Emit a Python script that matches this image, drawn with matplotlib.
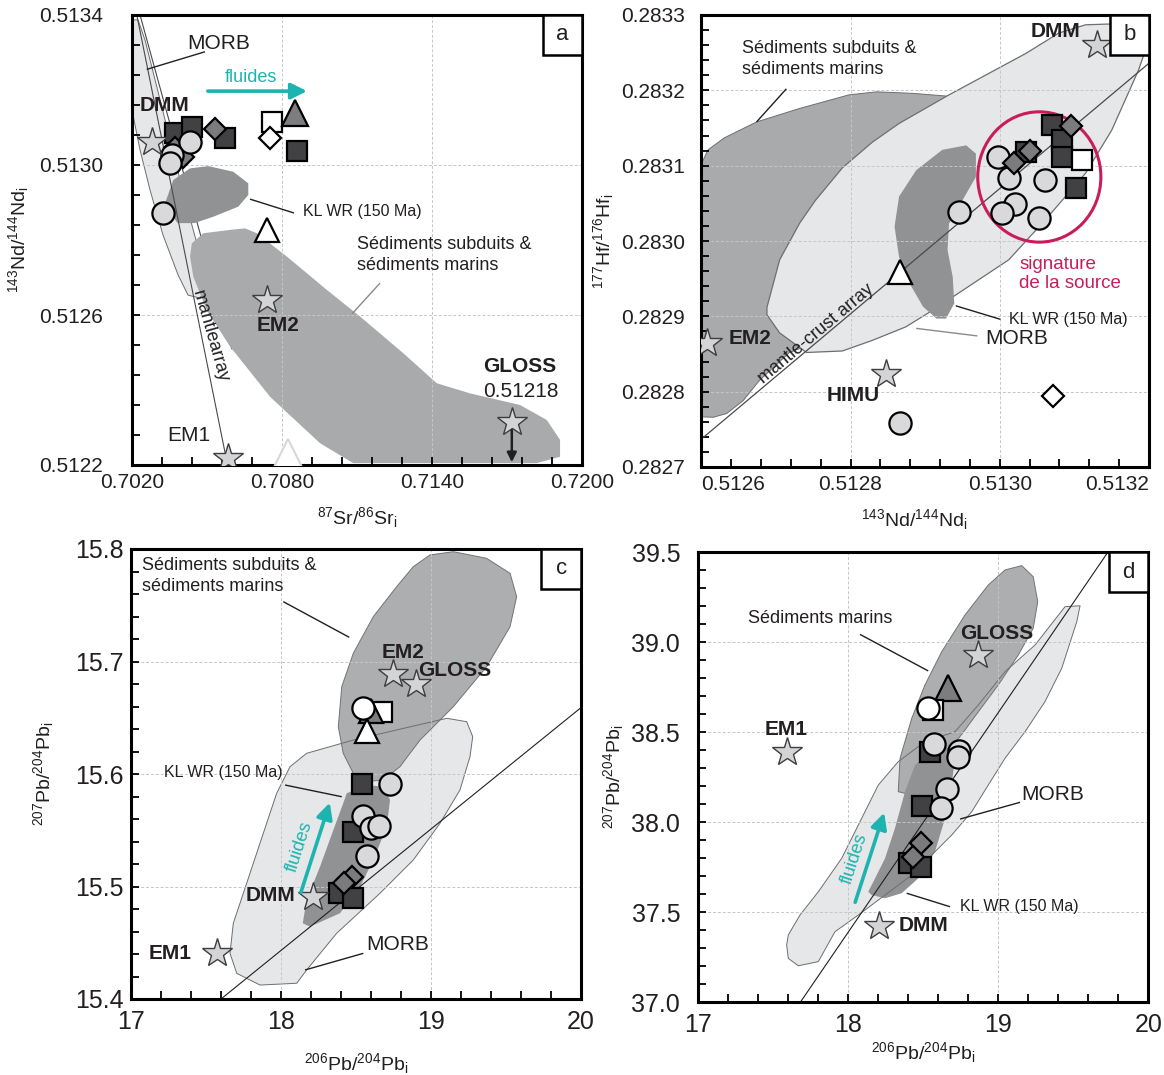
import numpy as np
import matplotlib
matplotlib.use('Agg')
import matplotlib.pyplot as plt
from matplotlib.patches import Polygon, Ellipse, Rectangle
from matplotlib.ticker import MultipleLocator, FixedLocator, FormatStrFormatter

plt.rcParams['font.family'] = ['Liberation Sans', 'DejaVu Sans']
plt.rcParams['mathtext.fontset'] = 'custom'
plt.rcParams['mathtext.rm'] = 'Liberation Sans'
plt.rcParams['mathtext.it'] = 'Liberation Sans:italic'
plt.rcParams['mathtext.bf'] = 'Liberation Sans:bold'

MORB_C = '#e6e7e8'
SED_C = '#a9aaac'
KL_C = '#919294'
EDGE = '#6d6e70'
TEAL = '#1db4b0'
RED = '#c81d5a'
TXT = '#231f20'
STAR_FC = '#d4d4d6'
SQ_FC = '#414143'
DIA_FC = '#7b7b7d'
CIR_FC = '#d9d9db'

# tick positions
a_xticks = [0.7020, 0.7080, 0.7140, 0.7200]
a_yticks = [0.5122, 0.5126, 0.5130, 0.5134]
b_xticks = [0.5126, 0.5128, 0.5130, 0.5132]
b_yticks = [0.2827, 0.2828, 0.2829, 0.2830, 0.2831, 0.2832, 0.2833]
c_xticks = [17, 18, 19, 20]
c_yticks = [15.4, 15.5, 15.6, 15.7, 15.8]
d_xticks = [17, 18, 19, 20]
d_yticks = [37.0, 37.5, 38.0, 38.5, 39.0, 39.5]

# ---------------- panel a : Sr - Nd ----------------
a_morb_x = [0.70203, 0.70203, 0.70231, 0.70271, 0.70323, 0.70383, 0.70423, 0.70471,
            0.70499, 0.70471, 0.70411, 0.70351, 0.70291, 0.70251, 0.70223]
a_morb_y = [0.513387, 0.513133, 0.513040, 0.512933, 0.512813, 0.512707, 0.512653, 0.512645,
            0.512680, 0.512760, 0.512907, 0.513067, 0.513227, 0.513333, 0.513387]
a_kl_x = [0.70331, 0.70364, 0.70431, 0.70504, 0.70604, 0.70664, 0.70664, 0.70624,
          0.70524, 0.70448, 0.70381, 0.70354]
a_kl_y = [0.512898, 0.512960, 0.512991, 0.512997, 0.512982, 0.512951, 0.512920, 0.512889,
          0.512862, 0.512845, 0.512845, 0.512871]
a_sed_x = [0.70438, 0.70484, 0.70591, 0.70651, 0.70698, 0.70818, 0.70978, 0.71111, 0.71284,
           0.71418, 0.71551, 0.71751, 0.71858, 0.71911, 0.71911, 0.71818, 0.71084, 0.70951,
           0.70751, 0.70591, 0.70498, 0.70444, 0.70431]
a_sed_y = [0.512791, 0.512818, 0.512827, 0.512831, 0.512818, 0.512756, 0.512667, 0.512596,
           0.512498, 0.512418, 0.512391, 0.512360, 0.512320, 0.512267, 0.512222, 0.512205,
           0.512205, 0.512258, 0.512382, 0.512516, 0.512613, 0.512702, 0.512756]
a_arr1_x = [0.70218, 0.70578]
a_arr1_y = [0.51340, 0.51221]
a_arr2_x = [0.70231, 0.70598]
a_arr2_y = [0.51340, 0.51251]

a_star_x = [0.70278, 0.70738, 0.70584, 0.71718]
a_star_y = [0.513062, 0.512640, 0.512218, 0.512315]
a_sq_x = [0.70371, 0.70438, 0.70571, 0.70858]
a_sq_y = [0.513085, 0.513102, 0.513071, 0.513036]
a_dia_x = [0.70531, 0.70371, 0.70404]
a_dia_y = [0.513096, 0.513045, 0.513022]
a_cir_x = [0.70431, 0.70358, 0.70351, 0.70324]
a_cir_y = [0.513062, 0.513027, 0.513005, 0.512871]
a_wsq = (0.70758, 0.513116)
a_wdia = (0.70751, 0.513071)
a_gtri = (0.70851, 0.513138)
a_wtri = (0.70739, 0.512827)
a_ftri = (0.70824, 0.512231)

# ---------------- panel b : Nd - Hf ----------------
b_morb_x = [0.513193, 0.513194, 0.513186, 0.513146, 0.513115, 0.513079, 0.513035, 0.512932,
            0.512865, 0.512829, 0.512789, 0.512753, 0.512732, 0.512705, 0.512688, 0.512688,
            0.512705, 0.512741, 0.512789, 0.512829, 0.512874, 0.512910, 0.513012, 0.513061,
            0.513115, 0.513150, 0.513186]
b_morb_y = [0.283247, 0.283273, 0.283288, 0.283288, 0.283287, 0.283276, 0.283249, 0.283194,
            0.283156, 0.283131, 0.283097, 0.283054, 0.283024, 0.282975, 0.282912, 0.282902,
            0.282878, 0.282852, 0.282854, 0.282868, 0.282886, 0.282908, 0.282975, 0.283028,
            0.283090, 0.283147, 0.283227]
b_sed_x = [0.512590, 0.512609, 0.512631, 0.512674, 0.512732, 0.512798, 0.512835, 0.512883,
           0.512946, 0.512999, 0.512932, 0.512799, 0.512718, 0.512678, 0.512656, 0.512634,
           0.512616, 0.512590]
b_sed_y = [0.283081, 0.283121, 0.283137, 0.283158, 0.283176, 0.283194, 0.283198, 0.283196,
           0.283191, 0.283121, 0.282988, 0.282882, 0.282852, 0.282815, 0.282788, 0.282771,
           0.282766, 0.282767]
b_kl_x = [0.512859, 0.512865, 0.512888, 0.512923, 0.512955, 0.512968, 0.512968, 0.512950,
          0.512932, 0.512930, 0.512937, 0.512939, 0.512928, 0.512915, 0.512897, 0.512879,
          0.512865]
b_kl_y = [0.283019, 0.283059, 0.283094, 0.283121, 0.283127, 0.283116, 0.283085, 0.283054,
          0.283023, 0.282988, 0.282952, 0.282917, 0.282897, 0.282897, 0.282913, 0.282944,
          0.282979]
b_arr_x = [0.51260, 0.51320]
b_arr_y = [0.282737, 0.283236]

b_star_x = [0.513130, 0.512607, 0.512848]
b_star_y = [0.283260, 0.282864, 0.282824]
b_sq_x = [0.513070, 0.513084, 0.513084, 0.513102, 0.513035]
b_sq_y = [0.283154, 0.283134, 0.283112, 0.283070, 0.283118]
b_dia_x = [0.513095, 0.513041, 0.513019]
b_dia_y = [0.283152, 0.283120, 0.283103]
b_cir_x = [0.512997, 0.513012, 0.513061, 0.513021, 0.513003, 0.513052, 0.512946, 0.512866]
b_cir_y = [0.283112, 0.283084, 0.283081, 0.283049, 0.283037, 0.283030, 0.283039, 0.282759]
b_wsq = (0.513110, 0.283108)
b_wdia = (0.513071, 0.282794)
b_wtri = (0.512866, 0.282959)
b_ring = (0.513053, 0.283085, 0.000165, 0.000173)

# ---------------- panel c : Pb 206 - 207 ----------------
c_sed_x = [18.993, 19.149, 19.371, 19.527, 19.571, 19.527, 19.371, 19.149, 18.927, 18.793,
           18.682, 18.571, 18.482, 18.415, 18.382, 18.405, 18.482, 18.615, 18.771, 18.882]
c_sed_y = [15.7947, 15.7976, 15.7917, 15.7784, 15.7576, 15.7309, 15.6954, 15.6598, 15.6302,
           15.6065, 15.5947, 15.5932, 15.6006, 15.6184, 15.6420, 15.6776, 15.7073, 15.7398,
           15.7665, 15.7843]
c_morb_x = [18.171, 18.482, 19.105, 19.238, 19.278, 19.260, 19.193, 19.060, 18.882, 18.660,
            18.371, 18.171, 18.105, 17.860, 17.705, 17.660, 17.682, 17.771, 17.882, 17.971,
            18.060]
c_morb_y = [15.6184, 15.6302, 15.6495, 15.6465, 15.6332, 15.6154, 15.5858, 15.5562, 15.5236,
            15.4940, 15.4584, 15.4258, 15.4140, 15.4124, 15.4228, 15.4406, 15.4673, 15.5028,
            15.5473, 15.5828, 15.6065]
c_kl_x = [18.438, 18.571, 18.682, 18.727, 18.705, 18.615, 18.527, 18.393, 18.193, 18.145,
          18.171, 18.260, 18.349, 18.415]
c_kl_y = [15.5828, 15.5902, 15.5887, 15.5769, 15.5532, 15.5236, 15.4998, 15.4762, 15.4643,
          15.4673, 15.4880, 15.5176, 15.5502, 15.5740]
c_line_x = [17.6, 20.0]
c_line_y = [15.400, 15.659]

c_star_x = [17.571, 18.211, 18.745, 18.898]
c_star_y = [15.4406, 15.4909, 15.6889, 15.6800]
c_sq_x = [18.538, 18.482, 18.389, 18.482]
c_sq_y = [15.5908, 15.5487, 15.4940, 15.4895]
c_dia_x = [18.471, 18.420]
c_dia_y = [15.5087, 15.5034]
c_cir_x = [18.727, 18.549, 18.598, 18.655, 18.575]
c_cir_y = [15.5908, 15.5627, 15.5517, 15.5538, 15.5271]
c_wcir = (18.549, 15.6584)
c_gtri = (18.598, 15.6563)
c_wsq = (18.671, 15.6554)
c_wtri = (18.571, 15.6385)

# ---------------- panel d : Pb 206 - 207 ----------------
d_sed_x = [18.333, 18.345, 18.423, 18.511, 18.623, 18.778, 18.933, 19.045, 19.156, 19.233,
           19.263, 19.233, 19.133, 19.000, 18.867, 18.778, 18.667, 18.556, 18.445, 18.378]
d_sed_y = [38.170, 38.356, 38.578, 38.763, 38.948, 39.152, 39.318, 39.402, 39.426, 39.364,
           39.226, 39.078, 38.929, 38.763, 38.614, 38.513, 38.392, 38.281, 38.207, 38.161]
d_morb_x = [17.600, 17.678, 17.800, 17.956, 18.089, 18.200, 18.333, 18.511, 18.711, 18.867,
            19.045, 19.245, 19.445, 19.545, 19.523, 19.423, 19.311, 19.178, 19.045, 18.933,
            18.823, 18.689, 18.556, 18.423, 18.245, 18.067, 17.911, 17.800, 17.667, 17.600,
            17.589]
d_morb_y = [37.374, 37.485, 37.614, 37.800, 38.022, 38.207, 38.337, 38.448, 38.503, 38.652,
            38.837, 38.985, 39.198, 39.203, 39.114, 38.856, 38.670, 38.503, 38.356, 38.207,
            38.059, 37.929, 37.818, 37.707, 37.596, 37.485, 37.392, 37.226, 37.203, 37.244,
            37.318]
d_kl_x = [18.156, 18.245, 18.356, 18.467, 18.578, 18.645, 18.689, 18.711, 18.645, 18.556,
          18.445, 18.378, 18.311, 18.245, 18.167, 18.133]
d_kl_y = [37.596, 37.578, 37.606, 37.689, 37.837, 38.022, 38.207, 38.356, 38.429, 38.411,
          38.318, 38.170, 37.967, 37.800, 37.670, 37.614]
d_line_x = [17.68, 19.73]
d_line_y = [37.0, 39.5]

d_star_x = [17.589, 18.205, 18.863]
d_star_y = [38.392, 37.426, 38.929]
d_sq_x = [18.545, 18.489, 18.405, 18.485]
d_sq_y = [38.392, 38.092, 37.772, 37.753]
d_dia_x = [18.483, 18.433]
d_dia_y = [37.887, 37.809]
d_cir_x = [18.573, 18.738, 18.733, 18.660, 18.616]
d_cir_y = [38.433, 38.396, 38.364, 38.185, 38.078]
d_gtri = (18.667, 38.748)
d_wsq = (18.567, 38.624)
d_wcir = (18.529, 38.637)


def region(ax, xs, ys, fc, ec='none', lw=0.8, z=1.0, alpha=1.0):
    ax.add_patch(Polygon(np.column_stack([xs, ys]), closed=True, fc=fc, ec=ec,
                         lw=lw, zorder=z, alpha=alpha, joinstyle='round'))


def pts(ax, xs, ys, marker, ms, fc, ec='black', mew=1.6, z=4):
    ax.plot(xs, ys, ls='none', marker=marker, ms=ms, mfc=fc, mec=ec, mew=mew, zorder=z)


def stars(ax, xs, ys):
    pts(ax, xs, ys, '*', 22, STAR_FC, ec='#3e3e40', mew=1.0, z=5)


def txt(ax, x, y, s, size=15, bold=False, color=TXT, **kw):
    ax.text(x, y, s, fontsize=size, fontweight='bold' if bold else 'normal', color=color,
            va='center', ha=kw.pop('ha', 'left'), zorder=6, **kw)


def leader(ax, x, y, color='#231f20', lw=1.0):
    ax.plot(x, y, color=color, lw=lw, zorder=3, solid_capstyle='butt')


def panel_box(ax, letter):
    ax.add_patch(Rectangle((0.912, 0.912), 0.088, 0.088, transform=ax.transAxes,
                           fc='white', ec='black', lw=1.8, zorder=7, clip_on=False))
    ax.text(0.956, 0.956, letter, transform=ax.transAxes, fontsize=16, ha='center',
            va='center', zorder=8, color=TXT)


def setup(ax, xticks, yticks, xmin, ymin, xfmt, yfmt, lsize, pad):
    ax.set_xlim(xticks[0], xticks[-1])
    ax.set_ylim(yticks[0], yticks[-1])
    ax.xaxis.set_major_locator(FixedLocator(xticks))
    ax.yaxis.set_major_locator(FixedLocator(yticks))
    ax.xaxis.set_minor_locator(MultipleLocator(xmin, offset=xticks[0]))
    ax.yaxis.set_minor_locator(MultipleLocator(ymin, offset=yticks[0]))
    ax.xaxis.set_major_formatter(FormatStrFormatter(xfmt))
    ax.yaxis.set_major_formatter(FormatStrFormatter(yfmt))
    ax.tick_params(which='both', direction='in', top=False, right=False, length=6,
                   width=1.3, labelsize=lsize, labelcolor=TXT)
    ax.tick_params(axis='y', which='major', pad=pad[1])
    ax.tick_params(axis='x', which='major', pad=pad[0])
    ax.set_axisbelow('line')
    ax.grid(True, which='major', ls=(0, (3, 2)), color='#c6c6c6', lw=0.7)
    for sp in ax.spines.values():
        sp.set_linewidth(2.2)


fig = plt.figure(figsize=(11.64, 10.75), dpi=100)
W, H = 1164.0, 1075.0
ax_a = fig.add_axes([132.3 / W, 1 - 465 / H, 450 / W, 450 / H])
ax_b = fig.add_axes([701.3 / W, 1 - 467 / H, 447.7 / W, 452 / H])
ax_c = fig.add_axes([131 / W, 1 - 999 / H, 450 / W, 450 / H])
ax_d = fig.add_axes([698.3 / W, 1 - 1002.3 / H, 450 / W, 450 / H])

# ---- a ----
ax = ax_a
setup(ax, a_xticks, a_yticks, 0.0012, 0.00008, '%.4f', '%.4f', 15, (6, 21))
region(ax, a_morb_x, a_morb_y, MORB_C, ec=EDGE, lw=0.7)
region(ax, a_kl_x, a_kl_y, KL_C, z=1.1)
ax.plot(a_arr2_x, a_arr2_y, color='#4a4a4c', lw=0.8, zorder=1.05)
region(ax, a_sed_x, a_sed_y, SED_C, z=1.2)
ax.plot(a_arr1_x, a_arr1_y, color='#4a4a4c', lw=0.8, zorder=2)
pts(ax, [a_ftri[0]], [a_ftri[1]], '^', 20, 'white', ec='#d8d8d8', mew=1.5, z=3)
stars(ax, a_star_x, a_star_y)
pts(ax, a_sq_x, a_sq_y, 's', 15, SQ_FC)
pts(ax, a_dia_x, a_dia_y, 'D', 11, DIA_FC)
pts(ax, a_cir_x, a_cir_y, 'o', 16, CIR_FC)
pts(ax, [a_wsq[0]], [a_wsq[1]], 's', 15, 'white')
pts(ax, [a_wdia[0]], [a_wdia[1]], 'D', 11, 'white')
pts(ax, [a_gtri[0]], [a_gtri[1]], '^', 19, '#7d7d7f')
pts(ax, [a_wtri[0]], [a_wtri[1]], '^', 17, 'white')
ax.annotate('', xy=(0.71718, 0.51220), xytext=(0.71718, 0.51230),
            arrowprops=dict(arrowstyle='-|>', color='#231f20', lw=1.8, mutation_scale=14),
            zorder=6)
ax.annotate('', xy=(0.70910, 0.513197), xytext=(0.70491, 0.513197),
            arrowprops=dict(arrowstyle='-|>', color=TEAL, lw=2.6, mutation_scale=24),
            zorder=6)
txt(ax, 0.70675, 0.513232, 'fluides', size=13, color=TEAL, ha='center')
txt(ax, 0.70419, 0.513325, 'MORB')
leader(ax, [0.702576, 0.704908], [0.513255, 0.513302])
txt(ax, 0.70231, 0.513160, 'DMM', bold=True)
txt(ax, 0.70883, 0.512876, 'KL WR (150 Ma)', size=11.5)
leader(ax, [0.706708, 0.708468], [0.512909, 0.512872])
txt(ax, 0.71099, 0.512760, 'Sédiments subduits &\nsédiments marins', size=13,
    linespacing=1.3)
leader(ax, [0.711908, 0.710788], [0.512685, 0.512603], color='#8a8a8c')
txt(ax, 0.70699, 0.512573, 'EM2', bold=True)
txt(ax, 0.71603, 0.512464, 'GLOSS', bold=True)
txt(ax, 0.71603, 0.512395, '0.51218')
txt(ax, 0.70339, 0.512280, 'EM1')
txt(ax, 0.70510, 0.512542, 'mantlearray', size=13, ha='center', rotation=-74,
    rotation_mode='anchor')
ax.set_xlabel(r'$^{87}$Sr/$^{86}$Sr$_{\rm i}$', fontsize=14, labelpad=9, color=TXT)
ax.set_ylabel(r'$^{143}$Nd/$^{144}$Nd$_{\rm i}$', fontsize=14, labelpad=6, color=TXT)
panel_box(ax, 'a')

# ---- b ----
ax = ax_b
setup(ax, b_xticks, b_yticks, 0.00004, 0.00002, '%.4f', '%.4f', 15, (6, 12))
region(ax, b_sed_x, b_sed_y, SED_C, ec=EDGE, lw=0.7)
region(ax, b_morb_x, b_morb_y, MORB_C, ec=EDGE, lw=0.9, z=1.1)
region(ax, b_kl_x, b_kl_y, KL_C, z=1.2)
ax.plot(b_arr_x, b_arr_y, color='#4a4a4c', lw=0.9, zorder=2)
ax.add_patch(Ellipse((b_ring[0], b_ring[1]), b_ring[2], b_ring[3], fc='none', ec=RED,
                     lw=2.2, zorder=3))
stars(ax, b_star_x, b_star_y)
pts(ax, b_cir_x, b_cir_y, 'o', 16, CIR_FC)
pts(ax, b_sq_x, b_sq_y, 's', 15, SQ_FC)
pts(ax, b_dia_x, b_dia_y, 'D', 11, DIA_FC)
pts(ax, [b_wsq[0]], [b_wsq[1]], 's', 15, 'white')
pts(ax, [b_wdia[0]], [b_wdia[1]], 'D', 11, 'white')
pts(ax, [b_wtri[0]], [b_wtri[1]], '^', 17, 'white')
txt(ax, 0.513041, 0.283278, 'DMM', bold=True)
txt(ax, 0.512654, 0.283242, 'Sédiments subduits &\nsédiments marins', size=13,
    linespacing=1.3)
leader(ax, [0.512714, 0.512674], [0.283202, 0.283158])
txt(ax, 0.512636, 0.282871, 'EM2', bold=True)
txt(ax, 0.512768, 0.282795, 'HIMU', bold=True)
txt(ax, 0.513012, 0.282896, 'KL WR (150 Ma)', size=11.5)
leader(ax, [0.512941, 0.513001], [0.282914, 0.282896])
txt(ax, 0.512981, 0.282871, 'MORB')
leader(ax, [0.512888, 0.512970], [0.282884, 0.282874], color='#8a8a8c')
txt(ax, 0.513026, 0.282956, 'signature\nde la source', size=13.5, color=RED,
    linespacing=1.2)
txt(ax, 0.512754, 0.282877, 'mantle-crust array', size=13, ha='center', rotation=40,
    rotation_mode='anchor')
ax.set_xlabel(r'$^{143}$Nd/$^{144}$Nd$_{\rm i}$', fontsize=14, labelpad=9, color=TXT)
ax.set_ylabel(r'$^{177}$Hf/$^{176}$Hf$_{\rm i}$', fontsize=14, labelpad=3, color=TXT)
ax.xaxis.label.set_x(0.475)
labs = ax.get_xticklabels()
labs[0].set_horizontalalignment('left')
labs[-1].set_horizontalalignment('right')
panel_box(ax, 'b')

# ---- c ----
ax = ax_c
setup(ax, c_xticks, c_yticks, 0.2, 0.02, '%d', '%.1f', 18, (8, 5))
region(ax, c_morb_x, c_morb_y, MORB_C)
region(ax, c_sed_x, c_sed_y, SED_C, ec=EDGE, lw=0.7, z=1.1, alpha=0.95)
region(ax, c_kl_x, c_kl_y, KL_C, z=1.2)
region(ax, c_morb_x, c_morb_y, 'none', ec=EDGE, lw=0.7, z=1.3)
ax.plot(c_line_x, c_line_y, color='#231f20', lw=0.8, zorder=2)
stars(ax, c_star_x, c_star_y)
pts(ax, c_sq_x, c_sq_y, 's', 15, SQ_FC)
pts(ax, c_cir_x, c_cir_y, 'o', 16, CIR_FC)
pts(ax, c_dia_x, c_dia_y, 'D', 11, DIA_FC)
pts(ax, [c_wsq[0]], [c_wsq[1]], 's', 15, 'white')
pts(ax, [c_gtri[0]], [c_gtri[1]], '^', 17, '#7d7d7f')
pts(ax, [c_wcir[0]], [c_wcir[1]], 'o', 16, 'white')
pts(ax, [c_wtri[0]], [c_wtri[1]], '^', 17, 'white')
txt(ax, 17.071, 15.7762, 'Sédiments subduits &\nsédiments marins', size=13,
    linespacing=1.3)
leader(ax, [18.015, 18.455], [15.7532, 15.7215])
txt(ax, 18.671, 15.7076, 'EM2', bold=True)
txt(ax, 18.911, 15.6924, 'GLOSS', bold=True)
txt(ax, 17.222, 15.6009, 'KL WR (150 Ma)', size=11.5)
leader(ax, [18.027, 18.405], [15.5902, 15.5798])
ax.annotate('', xy=(18.331, 15.5769), xytext=(18.127, 15.4924),
            arrowprops=dict(arrowstyle='-|>', color=TEAL, lw=2.6, mutation_scale=24),
            zorder=6)
txt(ax, 18.127, 15.5354, 'fluides', size=13, color=TEAL, ha='center', rotation=72,
    rotation_mode='anchor')
txt(ax, 17.767, 15.4916, 'DMM', bold=True)
txt(ax, 17.115, 15.4406, 'EM1', bold=True)
txt(ax, 18.567, 15.4480, 'MORB')
leader(ax, [18.549, 18.160], [15.4406, 15.4258])
ax.set_xlabel(r'$^{206}$Pb/$^{204}$Pb$_{\rm i}$', fontsize=14, labelpad=12, color=TXT)
ax.set_ylabel(r'$^{207}$Pb/$^{204}$Pb$_{\rm i}$', fontsize=14, labelpad=14, color=TXT)
panel_box(ax, 'c')

# ---- d ----
ax = ax_d
setup(ax, d_xticks, d_yticks, 0.2, 0.1, '%d', '%.1f', 18, (8, 13))
region(ax, d_morb_x, d_morb_y, MORB_C)
region(ax, d_sed_x, d_sed_y, SED_C, ec=EDGE, lw=0.7, z=1.1, alpha=0.95)
region(ax, d_kl_x, d_kl_y, KL_C, z=1.2)
region(ax, d_morb_x, d_morb_y, 'none', ec=EDGE, lw=0.7, z=1.3)
ax.plot(d_line_x, d_line_y, color='#231f20', lw=0.8, zorder=2)
stars(ax, d_star_x, d_star_y)
pts(ax, d_sq_x, d_sq_y, 's', 15, SQ_FC)
pts(ax, d_cir_x, d_cir_y, 'o', 16, CIR_FC)
pts(ax, d_dia_x, d_dia_y, 'D', 11, DIA_FC)
pts(ax, [d_gtri[0]], [d_gtri[1]], '^', 19, '#7d7d7f')
pts(ax, [d_wsq[0]], [d_wsq[1]], 's', 15, 'white')
pts(ax, [d_wcir[0]], [d_wcir[1]], 'o', 16, 'white')
txt(ax, 17.333, 39.133, 'Sédiments marins', size=13)
leader(ax, [18.078, 18.533], [39.044, 38.841])
txt(ax, 18.745, 39.050, 'GLOSS', bold=True)
txt(ax, 17.445, 38.513, 'EM1', bold=True)
txt(ax, 19.151, 38.156, 'MORB')
leader(ax, [19.145, 18.745], [38.111, 38.018])
ax.annotate('', xy=(18.245, 38.068), xytext=(18.040, 37.541),
            arrowprops=dict(arrowstyle='-|>', color=TEAL, lw=2.6, mutation_scale=24),
            zorder=6)
txt(ax, 18.045, 37.800, 'fluides', size=13, color=TEAL, ha='center', rotation=72,
    rotation_mode='anchor')
txt(ax, 18.745, 37.531, 'KL WR (150 Ma)', size=11.5)
leader(ax, [18.389, 18.678], [37.606, 37.531])
txt(ax, 18.333, 37.426, 'DMM', bold=True)
ax.set_xlabel(r'$^{206}$Pb/$^{204}$Pb$_{\rm i}$', fontsize=14, labelpad=2, color=TXT)
ax.set_ylabel(r'$^{207}$Pb/$^{204}$Pb$_{\rm i}$', fontsize=14, labelpad=4, color=TXT)
panel_box(ax, 'd')

fig.savefig('out.png', dpi=100)
